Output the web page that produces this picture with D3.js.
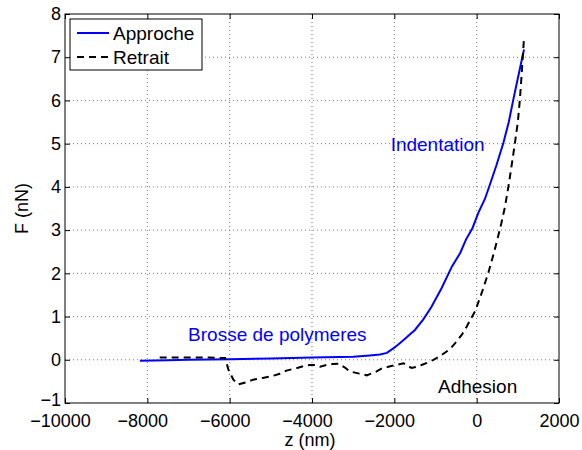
<!DOCTYPE html>
<html>
<head>
<meta charset="utf-8">
<script src="https://cdn.jsdelivr.net/npm/d3@7"></script>
<style>
body { margin: 0; background: #fff; }
text { font-family: "Liberation Sans", Arial, sans-serif; }
</style>
</head>
<body>
<svg id="chart" width="582" height="450"></svg>
<script>
// approach curve (Approche)
var zApp = [-8180, -7500, -7000, -6000, -5000, -4000, -3000, -2600, -2350, -2180, -2000, -1860, -1700, -1500, -1300, -1100, -850, -600, -400, -260, -100, 40, 200, 320, 480, 650, 780, 890, 1020, 1150];
var fApp = [-0.02, -0.01, 0.0, 0.01, 0.03, 0.05, 0.07, 0.1, 0.12, 0.16, 0.28, 0.39, 0.52, 0.69, 0.93, 1.22, 1.66, 2.16, 2.47, 2.78, 3.05, 3.40, 3.72, 4.05, 4.5, 5.02, 5.5, 6.02, 6.6, 7.18];

// retract curve (Retrait)
var zRet = [-7700, -7000, -6500, -6110, -6030, -5910, -5790, -5600, -5430, -5200, -5020, -4800, -4620, -4400, -4210, -4050, -3890, -3800, -3650, -3500, -3360, -3200, -3080, -2850, -2670, -2430, -2300, -2100, -1950, -1780, -1660, -1580, -1450, -1340, -1200, -1050, -900, -730, -600, -490, -360, -240, -140, -40, 40, 120, 200, 280, 360, 440, 520, 600, 690, 770, 850, 930, 1000, 1050, 1100, 1150];
var fRet = [0.05, 0.05, 0.05, 0.04, -0.23, -0.46, -0.57, -0.52, -0.46, -0.42, -0.39, -0.33, -0.25, -0.2, -0.15, -0.12, -0.12, -0.16, -0.12, -0.1, -0.09, -0.18, -0.27, -0.32, -0.36, -0.27, -0.2, -0.15, -0.12, -0.08, -0.15, -0.19, -0.16, -0.12, -0.07, 0, 0.08, 0.19, 0.3, 0.42, 0.58, 0.77, 0.95, 1.12, 1.33, 1.54, 1.77, 2.0, 2.27, 2.55, 2.85, 3.16, 3.55, 4.0, 4.5, 5.02, 5.5, 6.02, 6.7, 7.45];

var xTicks = [-10000, -8000, -6000, -4000, -2000, 0, 2000];
var yTicks = [-1, 0, 1, 2, 3, 4, 5, 6, 7, 8];
var seriesNames = ["Approche", "Retrait"];
var notes = [
    {text: "Indentation", z: -2090, f: 4.84, color: "#0000ff"},
    {text: "Brosse de polymeres", z: -7010, f: 0.44, color: "#0000ff"},
    {text: "Adhesion", z: -940, f: -0.76, color: "#000"}
];

var margin = {left: 65, top: 14, right: 23, bottom: 47};
var w = 582 - margin.left - margin.right;
var h = 450 - margin.top - margin.bottom;

var svg = d3.select("#chart");
var g = svg.append("g").attr("transform", "translate(" + margin.left + "," + margin.top + ")");

var x = d3.scaleLinear().domain([-10000, 2000]).range([0, w]);
var y = d3.scaleLinear().domain([-1, 8]).range([h, 0]);

function minus(v) { return v < 0 ? "\u2212" + Math.abs(v) : "" + v; }

// dotted grid
g.selectAll(".gx").data(xTicks.slice(1, -1)).enter().append("line")
    .attr("x1", function(d){ return x(d); }).attr("x2", function(d){ return x(d); })
    .attr("y1", 0).attr("y2", h)
    .attr("stroke", "#777").attr("stroke-width", 1).attr("stroke-dasharray", "1,3");
g.selectAll(".gy").data(yTicks.slice(1, -1)).enter().append("line")
    .attr("y1", function(d){ return y(d); }).attr("y2", function(d){ return y(d); })
    .attr("x1", 0).attr("x2", w)
    .attr("stroke", "#777").attr("stroke-width", 1).attr("stroke-dasharray", "1,3");

// axes, ticks pointing inward on all four sides
var xAxis = d3.axisBottom(x).tickValues(xTicks).tickSize(-5).tickPadding(9).tickFormat(minus);
var yAxis = d3.axisLeft(y).tickValues(yTicks).tickSize(-5).tickPadding(4).tickFormat(minus);

var gx = g.append("g").attr("transform", "translate(0," + h + ")").call(xAxis);
var gy = g.append("g").call(yAxis);
g.append("g").call(d3.axisTop(x).tickValues(xTicks).tickSize(-5).tickFormat(""));
g.append("g").attr("transform", "translate(" + w + ",0)").call(d3.axisRight(y).tickValues(yTicks).tickSize(-5).tickFormat(""));

g.selectAll(".domain").remove();
g.selectAll(".tick line").attr("stroke", "#000");
gx.selectAll("text").attr("font-size", 18).attr("fill", "#000").attr("dy", "0.84em")
    .attr("dx", function(d){ return d < 0 ? -5 : 0; });
gy.selectAll("text").attr("font-size", 18).attr("fill", "#000")
    .attr("dy", function(d){ return d == -1 ? "0.12em" : "0.32em"; });

g.append("rect").attr("width", w).attr("height", h)
    .attr("fill", "none").attr("stroke", "#000").attr("stroke-width", 1);

// curves
var line = d3.line().x(function(d){ return x(d[0]); }).y(function(d){ return y(d[1]); });

g.append("path").datum(d3.zip(zApp, fApp))
    .attr("d", line).attr("fill", "none")
    .attr("stroke", "#0000ff").attr("stroke-width", 2);

g.append("path").datum(d3.zip(zRet, fRet))
    .attr("d", line).attr("fill", "none")
    .attr("stroke", "#000").attr("stroke-width", 2).attr("stroke-dasharray", "7,5");

// annotations
g.selectAll(".note").data(notes).enter().append("text")
    .attr("x", function(d){ return x(d.z); })
    .attr("y", function(d){ return y(d.f); })
    .attr("fill", function(d){ return d.color; })
    .attr("font-size", 19)
    .text(function(d){ return d.text; });

// axis labels
svg.append("text").attr("x", margin.left + x(-4050)).attr("y", 446)
    .attr("text-anchor", "middle").attr("font-size", 18).text("z (nm)");
svg.append("text").attr("transform", "translate(28," + (margin.top + y(3.5)) + ") rotate(-90)")
    .attr("text-anchor", "middle").attr("font-size", 18).text("F (nN)");

// legend
var legend = svg.append("g").attr("transform", "translate(70,19)");
legend.append("rect").attr("width", 132).attr("height", 51)
    .attr("fill", "#fff").attr("stroke", "#000").attr("stroke-width", 1);

var legendColor = d3.scaleOrdinal().domain(seriesNames).range(["#0000ff", "#000"]);
var legendDash = d3.scaleOrdinal().domain(seriesNames).range(["none", "7,5"]);

legend.selectAll(".lk").data(seriesNames).enter().append("line")
    .attr("x1", 7).attr("x2", 39)
    .attr("y1", function(d, i){ return 14 + i * 24; })
    .attr("y2", function(d, i){ return 14 + i * 24; })
    .attr("stroke", function(d){ return legendColor(d); })
    .attr("stroke-width", 2)
    .attr("stroke-dasharray", function(d){ return legendDash(d); });

legend.selectAll(".lt").data(seriesNames).enter().append("text")
    .attr("x", 43)
    .attr("y", function(d, i){ return 21 + i * 24; })
    .attr("font-size", 19)
    .text(function(d){ return d; });
</script>
</body>
</html>
